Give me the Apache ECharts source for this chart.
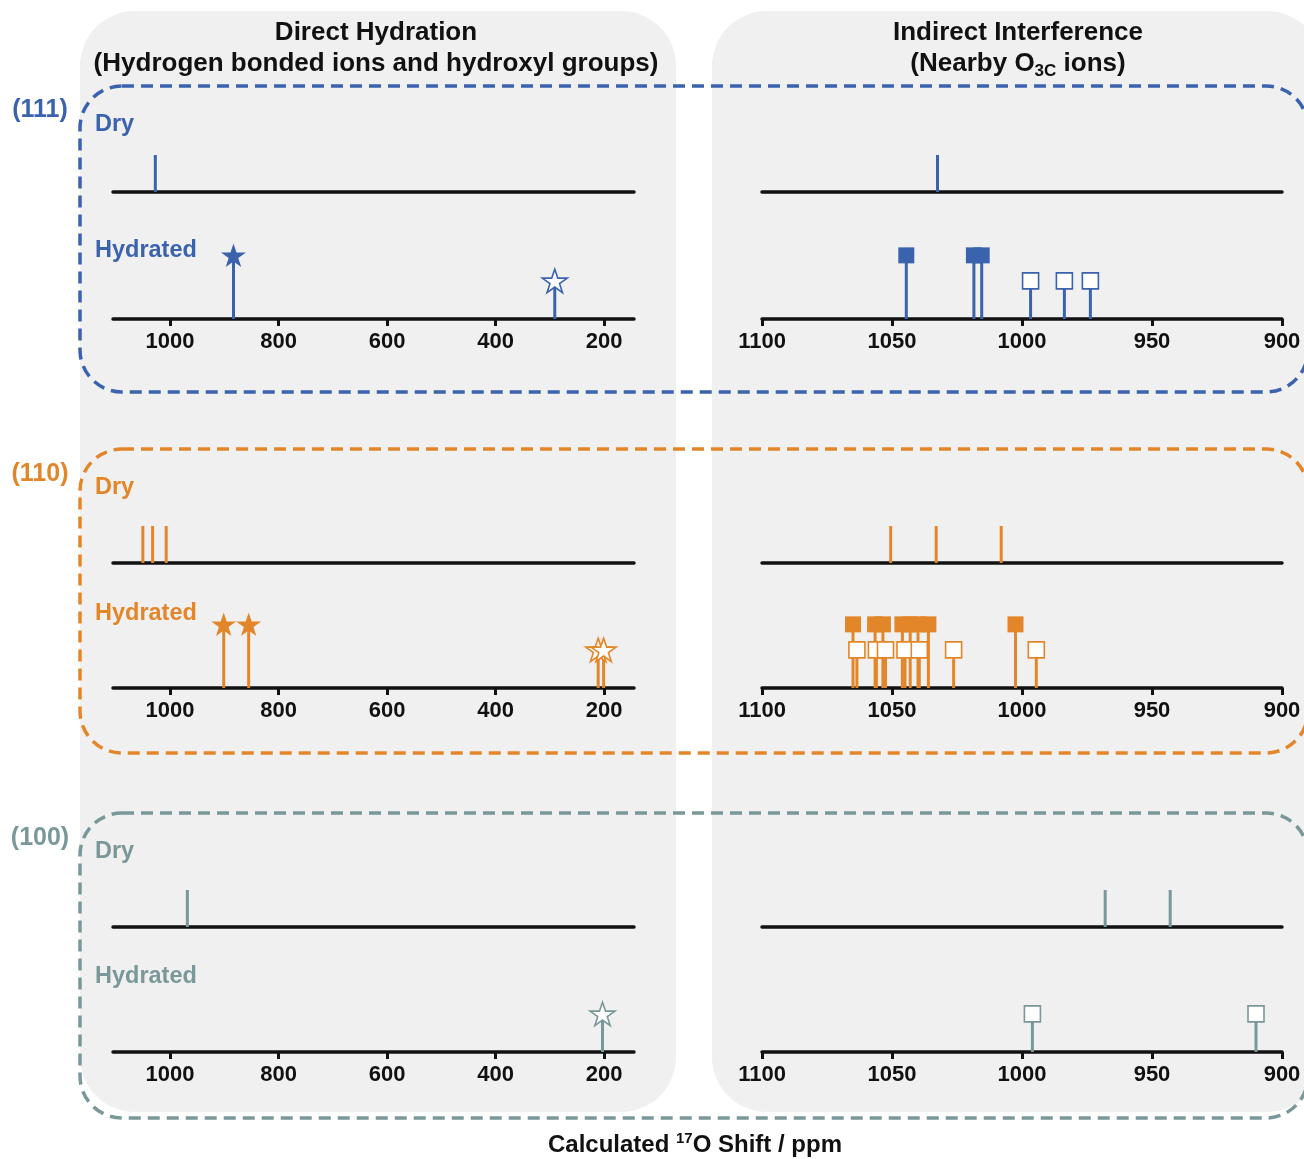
<!DOCTYPE html>
<html><head><meta charset="utf-8">
<script src="https://cdn.jsdelivr.net/npm/echarts@6/dist/echarts.min.js"></script>
<style>html,body{margin:0;padding:0;background:#fff}#c{width:1304px;height:1159px}</style>
</head><body><div id="c"></div><script>
// ---------- data (ppm values) ----------
const leftTicks  = [1000, 800, 600, 400, 200];
const rightTicks = [1100, 1050, 1000, 950, 900];
const facetNames = ['(111)', '(110)', '(100)'];
const rowNames   = ['Dry', 'Hydrated'];
// relative heights of the sticks (dry line, open marker, filled marker)
const dryLevel = 1.0, openLevel = 1.03, filledLevel = 1.72;

// (111)
const dry111L    = [1027];
const filled111L = [883];
const open111L   = [291];
const dry111R    = [1032.5];
const filled111R = [1044.5, 1018.5, 1015.5];
const open111R   = [996.7, 983.7, 973.7];
// (110)
const dry110L    = [1050, 1032, 1007];
const filled110L = [901, 855];
const open110L   = [211, 201];
const dry110R    = [1050.5, 1033, 1008];
const filled110R = [1065, 1056.5, 1053.5, 1046, 1043, 1040, 1036, 1002.5];
const open110R   = [1063.5, 1056, 1052.5, 1045, 1039.5, 1026.3, 994.5];
// (100)
const dry100L    = [968];
const filled100L = [];
const open100L   = [203];
const dry100R    = [968, 943];
const filled100R = [];
const open100R   = [996, 910];

// ---------- styles / layout ----------
const FONT = "'Liberation Sans', Arial, sans-serif";
const colors = ['#3a62ad', '#e3862a', '#7a9899'];
const baselines = [[192, 319], [563, 688], [927, 1052]];
const GH = 74; // grid height (y 0..2)
const STAR = 'path://M50,0 L61.8,35.1 L98.9,35.1 L68.8,56.7 L80.2,91.9 L50,70.2 L19.8,91.9 L31.2,56.7 L1.1,35.1 L38.2,35.1 Z';

const panels = [
  [ {dry: dry111L, filled: filled111L, open: open111L}, {dry: dry111R, filled: filled111R, open: open111R} ],
  [ {dry: dry110L, filled: filled110L, open: open110L}, {dry: dry110R, filled: filled110R, open: open110R} ],
  [ {dry: dry100L, filled: filled100L, open: open100L}, {dry: dry100R, filled: filled100R, open: open100R} ]
];

const grid = [], xAxis = [], yAxis = [], series = [];

function stem(gi, values, h, color, width, z) {
  return {
    type: 'custom', xAxisIndex: gi, yAxisIndex: gi, z: z, silent: true,
    data: values.map(v => [v, h]),
    renderItem: function (params, api) {
      const a = api.coord([api.value(0), 0]);
      const b = api.coord([api.value(0), api.value(1)]);
      return { type: 'line', shape: { x1: a[0], y1: a[1], x2: b[0], y2: b[1] },
               style: { stroke: color, lineWidth: width } };
    }
  };
}
function markers(gi, values, h, symbol, size, color, open, z) {
  return {
    type: 'scatter', xAxisIndex: gi, yAxisIndex: gi, z: z, silent: true,
    symbol: symbol, symbolSize: size, symbolKeepAspect: true,
    data: values.map(v => [v, h]),
    itemStyle: open ? { color: '#ffffff', borderColor: color, borderWidth: 1.6, opacity: 1 }
                    : { color: color, borderWidth: 0, opacity: 1 }
  };
}

for (let f = 0; f < 3; f++) {
  for (let side = 0; side < 2; side++) {
    for (let row = 0; row < 2; row++) {
      const gi = grid.length;
      const base = baselines[f][row];
      grid.push({ left: side ? 762 : 113, width: side ? 520 : 521, top: base - GH, height: GH });
      const isHyd = row === 1;
      const ax = {
        type: 'value', gridIndex: gi, inverse: true,
        axisLine: { show: true, onZero: false, lineStyle: { color: '#111', width: 3.5 } },
        axisTick: { show: isHyd, length: 7, inside: false, lineStyle: { color: '#111', width: 3 } },
        axisLabel: { show: isHyd, color: '#111', fontSize: 22, fontWeight: 'bold', fontFamily: FONT, margin: 12,
                     formatter: v => String(v) },
        splitLine: { show: false }
      };
      if (side === 0) {
        ax.min = 145; ax.max = 1105;
        ax.axisTick.customValues = leftTicks;
        ax.axisLabel.customValues = leftTicks;
      } else {
        ax.min = 900; ax.max = 1100; ax.interval = 50;
        ax.axisTick.customValues = rightTicks;
        ax.axisLabel.customValues = rightTicks;
      }
      xAxis.push(ax);
      yAxis.push({ type: 'value', gridIndex: gi, min: 0, max: 2, show: false });
      const d = panels[f][side];
      const c = colors[f];
      if (!isHyd) {
        series.push(stem(gi, d.dry, dryLevel, c, 3, 2));
      } else {
        series.push(stem(gi, d.filled, filledLevel, c, 3, 2));
        series.push(stem(gi, d.open, openLevel, c, 3, 2));
        const sym = side === 0 ? STAR : 'rect';
        const sz = side === 0 ? 25 : 16;
        series.push(markers(gi, d.filled, filledLevel, sym, sz, c, false, 3));
        series.push(markers(gi, d.open, openLevel, sym, sz, c, true, 4));
      }
    }
  }
}

// ---------- decorations ----------
const graphic = [];
graphic.push({ type: 'rect', z: -20, silent: true, shape: { x: 80, y: 11, width: 596, height: 1101, r: 55 }, style: { fill: '#f0f0f0' } });
graphic.push({ type: 'rect', z: -20, silent: true, shape: { x: 712, y: 11, width: 610, height: 1101, r: 55 }, style: { fill: '#f0f0f0' } });
const boxes = [[86, 392], [449, 753], [813, 1118]];
boxes.forEach((b, i) => {
  graphic.push({ type: 'rect', z: -10, silent: true,
    shape: { x: 80, y: b[0], width: 1228, height: b[1] - b[0], r: 42 },
    style: { fill: null, stroke: colors[i], lineWidth: 3.5, lineDash: [12, 7] } });
});
const titleStyle = { fill: '#111', fontSize: 26, fontWeight: 'bold', fontFamily: FONT, textAlign: 'center', textVerticalAlign: 'middle' };
graphic.push({ type: 'text', z: 10, style: Object.assign({ x: 376, y: 33, text: 'Direct Hydration' }, titleStyle) });
graphic.push({ type: 'text', z: 10, style: Object.assign({ x: 376, y: 64, text: '(Hydrogen bonded ions and hydroxyl groups)' }, titleStyle) });
graphic.push({ type: 'text', z: 10, style: Object.assign({ x: 1018, y: 33, text: 'Indirect Interference' }, titleStyle) });
graphic.push({ type: 'text', z: 10, style: {
  x: 1018, y: 64, textAlign: 'center', textVerticalAlign: 'middle',
  text: '{m|(Nearby O}{s|3C}{m| ions)}',
  rich: {
    m: { fill: '#111', fontSize: 26, fontWeight: 'bold', fontFamily: FONT, lineHeight: 32 },
    s: { fill: '#111', fontSize: 17, fontWeight: 'bold', fontFamily: FONT, lineHeight: 32, padding: [14, 0, 0, 0] }
  } } });
graphic.push({ type: 'text', z: 10, style: {
  x: 695, y: 1145, textAlign: 'center', textVerticalAlign: 'middle',
  text: '{m|Calculated }{s|17}{m|O Shift / ppm}',
  rich: {
    m: { fill: '#111', fontSize: 24, fontWeight: 'bold', fontFamily: FONT, lineHeight: 30 },
    s: { fill: '#111', fontSize: 15, fontWeight: 'bold', fontFamily: FONT, lineHeight: 30, padding: [0, 0, 12, 0] }
  } } });
const facetLabelY = [110, 474, 838];
const rowLabelY = [[125, 251], [488, 614], [852, 977]];
for (let f = 0; f < 3; f++) {
  graphic.push({ type: 'text', z: 10, style: { x: 40, y: facetLabelY[f], text: facetNames[f], fill: colors[f], fontSize: 25, fontWeight: 'bold', fontFamily: FONT, textAlign: 'center', textVerticalAlign: 'middle' } });
  for (let r = 0; r < 2; r++) {
    graphic.push({ type: 'text', z: 10, style: { x: 95, y: rowLabelY[f][r], text: rowNames[r], fill: colors[f], fontSize: 23.5, fontWeight: 'bold', fontFamily: FONT, textAlign: 'left', textVerticalAlign: 'middle' } });
  }
}

const chart = echarts.init(document.getElementById('c'), null, { renderer: 'canvas' });
chart.setOption({
  backgroundColor: '#ffffff',
  animation: false,
  grid: grid, xAxis: xAxis, yAxis: yAxis, series: series, graphic: graphic
});
</script></body></html>
